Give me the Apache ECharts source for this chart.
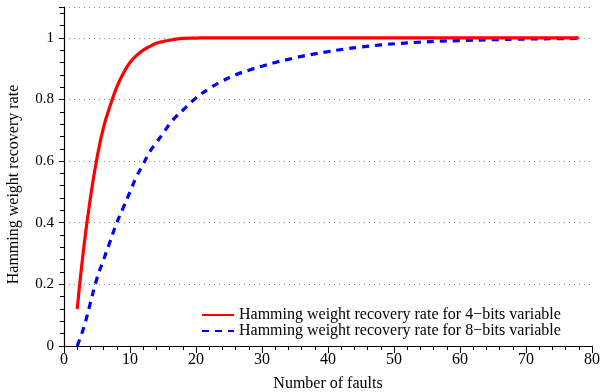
<!DOCTYPE html>
<html>
<head>
<meta charset="utf-8">
<script src="https://cdn.jsdelivr.net/npm/echarts@6/dist/echarts.min.js"></script>
<style>
  html, body { margin: 0; padding: 0; background: #fff; }
  #chart { width: 600px; height: 392px; }
</style>
</head>
<body>
<div id="chart"></div>
<script>
// 4-bit variable curve
const faults4 = [2, 3, 4, 5, 6, 7, 8, 9, 10, 11, 12, 13, 14, 15, 16, 17, 18, 20, 22, 25, 30, 40, 50, 60, 70, 78];
const rate4 = [0.12, 0.32, 0.48, 0.61, 0.71, 0.78, 0.84, 0.885, 0.92, 0.943, 0.96, 0.972, 0.982, 0.988, 0.992, 0.996, 0.998, 0.999, 1, 1, 1, 1, 1, 1, 1, 1];

// 8-bit variable curve
const faults8 = [2, 3, 4, 5, 6, 7, 8, 9, 10, 11, 12, 13, 14, 15, 16, 17, 18, 19, 20, 22, 24, 26, 28, 30, 32, 34, 36, 38, 40, 42, 45, 48, 51, 54, 57, 60, 65, 70, 74, 78];
const rate8 = [0.0, 0.06, 0.14, 0.22, 0.28, 0.34, 0.40, 0.45, 0.50, 0.55, 0.59, 0.63, 0.66, 0.69, 0.72, 0.745, 0.765, 0.785, 0.805, 0.835, 0.86, 0.88, 0.895, 0.908, 0.92, 0.93, 0.94, 0.948, 0.955, 0.962, 0.97, 0.977, 0.982, 0.986, 0.989, 0.991, 0.994, 0.996, 0.997, 0.998];

const seriesNames = [
  'Hamming weight recovery rate for 4\u2212bits variable',
  'Hamming weight recovery rate for 8\u2212bits variable'
];

const font = 'Liberation Serif';

const chart = echarts.init(document.getElementById('chart'));

const option = {
  animation: false,
  textStyle: { fontFamily: font },
  grid: { left: 64, right: 8, top: 7, bottom: 46, outerBoundsMode: 'none' },
  legend: {
    orient: 'vertical',
    left: 196,
    top: 302,
    itemWidth: 32,
    itemHeight: 14,
    itemGap: 0,
    itemStyle: { opacity: 0 },
    textStyle: { fontFamily: font, fontSize: 16, color: '#000' },
    data: seriesNames
  },
  xAxis: {
    type: 'value',
    min: 0,
    max: 80,
    interval: 10,
    name: 'Number of faults',
    nameLocation: 'middle',
    nameGap: 30,
    nameTextStyle: { fontFamily: font, fontSize: 16, color: '#000' },
    axisLine: { onZero: false, lineStyle: { color: '#000', width: 1.2 } },
    axisTick: { length: 7, lineStyle: { color: '#000' } },
    minorTick: { show: true, splitNumber: 5, length: 4, lineStyle: { color: '#000' } },
    axisLabel: { fontFamily: font, fontSize: 16, color: '#000', margin: 6 },
    splitLine: { show: false }
  },
  yAxis: {
    type: 'value',
    min: 0,
    max: 1.1,
    interval: 0.2,
    name: 'Hamming weight recovery rate',
    nameLocation: 'middle',
    nameGap: 42,
    nameTextStyle: { fontFamily: font, fontSize: 16, color: '#000', padding: [0, 0, 0, -16] },
    axisLine: { show: true, lineStyle: { color: '#000', width: 1.2 } },
    axisTick: { show: true, length: 5, lineStyle: { color: '#000' } },
    minorTick: { show: true, splitNumber: 5, length: 4, lineStyle: { color: '#000' } },
    axisLabel: {
      fontFamily: font,
      fontSize: 15,
      color: '#000',
      margin: 10,
      formatter: function (v) {
        const r = Math.round(v * 10) / 10;
        if (Math.abs(r * 5 - Math.round(r * 5)) > 1e-6 || r > 1.05) return '';
        return String(r);
      }
    },
    splitLine: {
      show: true,
      lineStyle: { color: '#888', type: [1, 4], width: 1 }
    }
  },
  series: [
    {
      name: seriesNames[0],
      type: 'line',
      smooth: true,
      symbol: 'none',
      data: faults4.map((x, i) => [x, rate4[i]]),
      lineStyle: { color: '#ff0000', width: 3.2 },
      itemStyle: { color: '#ff0000' },
      z: 3
    },
    {
      name: seriesNames[1],
      type: 'line',
      smooth: true,
      symbol: 'none',
      data: faults8.map((x, i) => [x, rate8[i]]),
      lineStyle: { color: '#0000ff', width: 3.2, type: [7, 6] },
      itemStyle: { color: '#0000ff' },
      z: 2
    }
  ]
};

chart.setOption(option);
</script>
</body>
</html>
